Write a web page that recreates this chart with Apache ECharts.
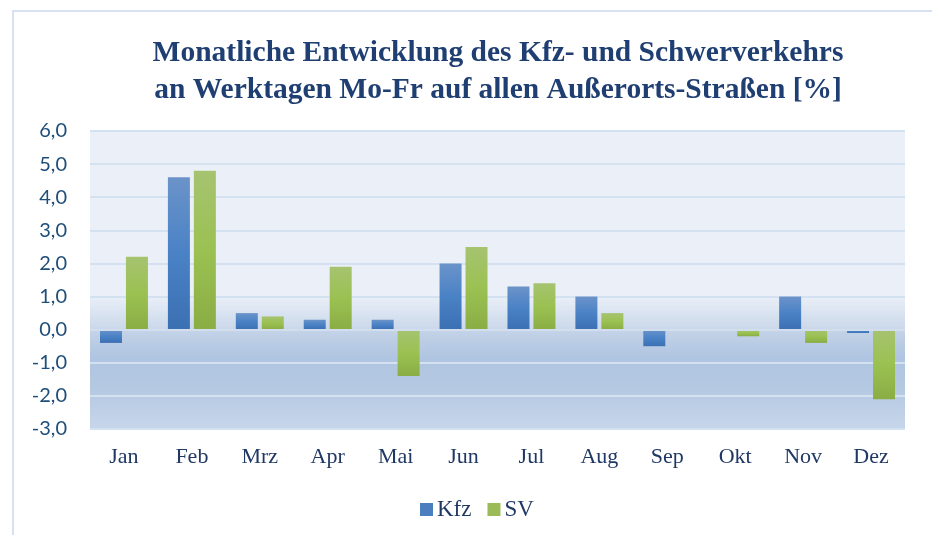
<!DOCTYPE html>
<html>
<head>
<meta charset="utf-8">
<script src="https://cdn.jsdelivr.net/npm/echarts@6/dist/echarts.min.js"></script>
<style>
  html, body { margin: 0; padding: 0; background: #fff; }
  #chart { width: 932px; height: 535px; }
</style>
</head>
<body>
<div id="chart"></div>
<script>
const months = ['Jan', 'Feb', 'Mrz', 'Apr', 'Mai', 'Jun', 'Jul', 'Aug', 'Sep', 'Okt', 'Nov', 'Dez']
const kfz = [-0.4, 4.6, 0.5, 0.3, 0.3, 2.0, 1.3, 1.0, -0.5, 0, 1.0, -0.1]
const sv = [2.2, 4.8, 0.4, 1.9, -1.4, 2.5, 1.4, 0.5, 0, -0.2, -0.4, -2.1]

const titleText = 'Monatliche Entwicklung des Kfz- und Schwerverkehrs\nan Werktagen Mo-Fr auf allen Außerorts-Straßen [%]'

const vGrad = (top, mid, bottom) => new echarts.graphic.LinearGradient(0, 0, 0, 1, [
  { offset: 0, color: top },
  { offset: 0.5, color: mid },
  { offset: 1, color: bottom }
])

const chart = echarts.init(document.getElementById('chart'))

chart.setOption({
  animation: false,
  backgroundColor: '#fff',
  graphic: [
    {
      type: 'polyline',
      shape: { points: [[13, 535], [13, 11], [932, 11]] },
      style: { stroke: '#d6e2f3', lineWidth: 2, fill: null },
      silent: true
    }
  ],
  title: {
    text: titleText,
    left: 493,
    top: 30,
    textAlign: 'center',
    textStyle: {
      fontFamily: 'Liberation Serif',
      fontWeight: 'bold',
      fontSize: 29.5,
      lineHeight: 37,
      color: '#1f3f73'
    }
  },
  legend: {
    bottom: 9,
    left: 415,
    itemWidth: 13,
    itemHeight: 13,
    itemGap: 16,
    icon: 'rect',
    textStyle: {
      fontFamily: 'Liberation Serif',
      fontSize: 23,
      color: '#1f3864',
      padding: [0, 0, 0, -1]
    },
    data: [
      { name: 'Kfz', itemStyle: { color: '#4a7ebf' } },
      { name: 'SV', itemStyle: { color: '#9bbb59' } }
    ]
  },
  grid: {
    left: 90,
    right: 27,
    top: 131,
    bottom: 106,
    show: true,
    borderWidth: 0,
    backgroundColor: new echarts.graphic.LinearGradient(0, 0, 0, 1, [
      { offset: 0, color: '#ebf0f8' },
      { offset: 0.55, color: '#ebf0f8' },
      { offset: 0.665, color: '#cad8ea' },
      { offset: 0.675, color: '#c2d2e7' },
      { offset: 0.76, color: '#b0c5e1' },
      { offset: 0.86, color: '#b4c8e2' },
      { offset: 1, color: '#c7d6ea' }
    ])
  },
  xAxis: {
    type: 'category',
    data: months,
    axisLine: { show: false },
    axisTick: { show: false },
    axisLabel: {
      margin: 17,
      fontFamily: 'Liberation Serif',
      fontSize: 22,
      color: '#1f3864'
    }
  },
  yAxis: {
    type: 'value',
    min: -3,
    max: 6,
    interval: 1,
    axisLine: { show: false },
    axisTick: { show: false },
    axisLabel: {
      margin: 23,
      fontFamily: 'Lato',
      fontSize: 20,
      color: '#1f4e79',
      formatter: v => v.toFixed(1).replace('.', ',')
    },
    splitLine: { lineStyle: { color: '#d4e1f1', width: 2 } }
  },
  series: [
    {
      name: 'Kfz',
      type: 'bar',
      data: kfz,
      barWidth: 22,
      barGap: '18%',
      itemStyle: { color: vGrad('#6b93c9', '#4a82c6', '#3b70b3') },
      markLine: {
        silent: true,
        symbol: 'none',
        label: { show: false },
        lineStyle: { color: '#d2deee', width: 2, type: 'solid' },
        data: [{ yAxis: 0 }]
      }
    },
    {
      name: 'SV',
      type: 'bar',
      data: sv,
      barWidth: 22,
      itemStyle: { color: vGrad('#a6c370', '#9bc152', '#8aad44') }
    }
  ]
})
</script>
</body>
</html>
